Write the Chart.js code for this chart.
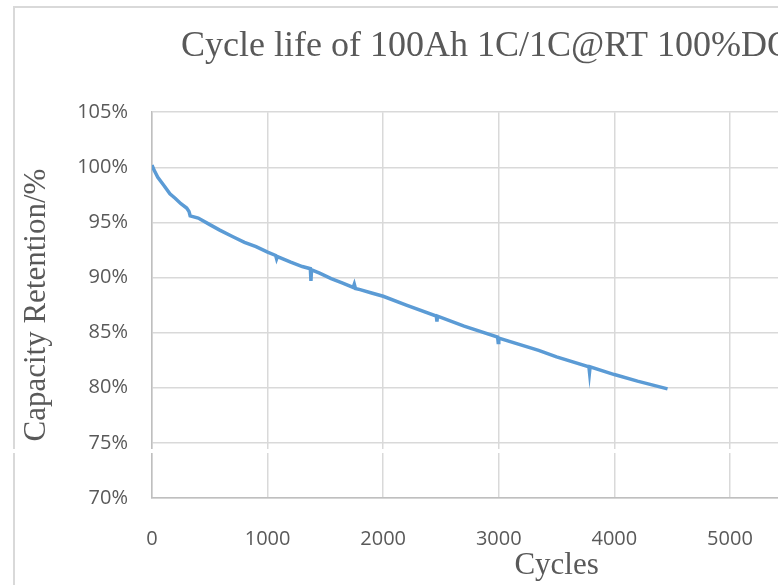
<!DOCTYPE html>
<html>
<head>
<meta charset="utf-8">
<script src="https://cdn.jsdelivr.net/npm/chart.js@4.4.0/dist/chart.umd.min.js"></script>
<style>
  html, body { margin: 0; padding: 0; background: #fff; overflow: hidden; }
  #wrap { position: relative; width: 778px; height: 585px; overflow: hidden; }
  #frame { position: absolute; left: 13px; top: 6px; width: 1100px; height: 700px;
           border-left: 2px solid #d9d9d9; border-top: 2px solid #d9d9d9; }
  #lifeChart { position: absolute; left: 0; top: 0; }
  #seam { position: absolute; left: 0; top: 449px; width: 778px; height: 4px; background: #fff; }
</style>
</head>
<body>
<div id="wrap">
  <div id="frame"></div>
  <canvas id="lifeChart" width="1013" height="585"></canvas>
  <div id="seam"></div>
</div>
<script>
// cycle life data
var cycles = [0, 20, 50, 100, 155, 200, 250, 300, 320, 330, 400, 500, 586, 700, 800, 900,
              1000, 1070, 1078, 1085, 1200, 1300, 1370, 1375, 1380, 1450, 1550, 1650, 1740, 1750,
              1760, 1800, 1900, 2000, 2200, 2460, 2465, 2470, 2700, 2990, 2995, 3000, 3345, 3500,
              3780, 3785, 3790, 4000, 4200, 4460]
var retention = [100.2, 99.7, 99.1, 98.4, 97.6, 97.2, 96.7, 96.3, 96.0, 95.6, 95.4, 94.8, 94.3, 93.7, 93.2, 92.8,
                 92.3, 92.0, 91.7, 91.9, 91.4, 91.0, 90.8, 89.7, 90.7, 90.4, 89.9, 89.5, 89.1, 89.4,
                 89.0, 88.9, 88.6, 88.3, 87.5, 86.5, 86.0, 86.5, 85.6, 84.6, 84.1, 84.5, 83.4, 82.8,
                 81.9, 81.4, 81.9, 81.2, 80.6, 79.9]
var chartTitle = 'Cycle life of 100Ah 1C/1C@RT 100%DOD'
var xTitle = 'Cycles'
var yTitle = 'Capacity Retention/%'

var points = cycles.map(function (c, i) { return { x: c, y: retention[i] } })

var ctx = document.getElementById('lifeChart').getContext('2d')
var grey = '#595959'
var gridGrey = '#d9d9d9'

new Chart(ctx, {
    type: 'line',
    data: {
        datasets: [{
            data: points,
            borderColor: '#5b9bd5',
            borderWidth: 3.5,
            pointRadius: 0,
            tension: 0,
            fill: false
        }]
    },
    options: {
        responsive: false,
        animation: false,
        layout: { padding: { left: 12, right: 25, top: 0, bottom: 0 } },
        plugins: {
            legend: { display: false },
            tooltip: { enabled: false },
            title: {
                display: true,
                text: chartTitle,
                color: grey,
                font: { family: 'Liberation Serif', size: 36, weight: 'normal' },
                padding: { top: 25, bottom: 44 }
            }
        },
        scales: {
            x: {
                type: 'linear',
                min: 0,
                max: 7000,
                ticks: { stepSize: 1000, color: grey, padding: 29, maxRotation: 0,
                         font: { family: 'Open Sans', size: 20 },
                         callback: function (v) { return String(v) } },
                grid: { color: gridGrey, lineWidth: 1.5, drawTicks: false },
                border: { color: '#bfbfbf', width: 1.5 },
                title: { display: true, text: xTitle, color: grey,
                         font: { family: 'Liberation Serif', size: 31 },
                         padding: { top: 0, bottom: 1 } },
                afterFit: function (scale) { scale.height = 87 }
            },
            y: {
                min: 70,
                max: 105,
                ticks: { stepSize: 5, color: grey, padding: 24,
                         font: { family: 'Open Sans', size: 20 },
                         callback: function (v) { return v + '%' } },
                grid: { color: gridGrey, lineWidth: 1.5, drawTicks: false },
                border: { color: '#bfbfbf', width: 1.5 },
                title: { display: true, text: yTitle, color: grey,
                         font: { family: 'Liberation Serif', size: 31 },
                         padding: { top: 6, bottom: 0 } },
                afterFit: function (scale) { scale.width = 140 }
            }
        }
    }
})
</script>
</body>
</html>
